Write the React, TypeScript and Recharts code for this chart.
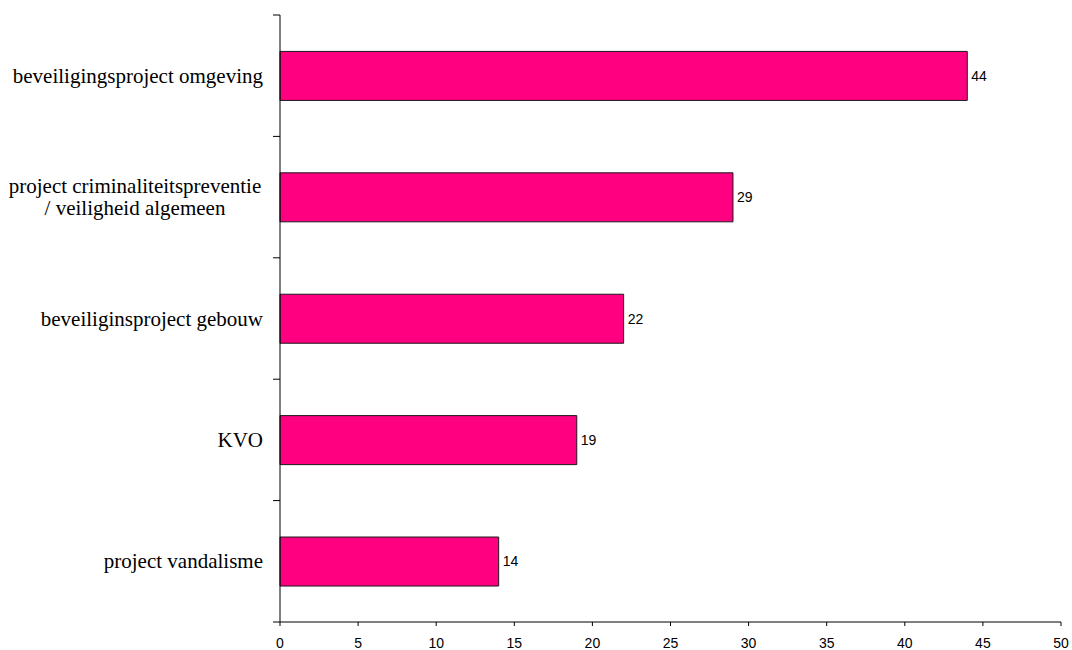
import { BarChart, Bar, XAxis, YAxis, LabelList } from 'recharts';

const CATEGORIES = [
  'beveiligingsproject omgeving',
  'project criminaliteitspreventie\n/ veiligheid algemeen',
  'beveiliginsproject gebouw',
  'KVO',
  'project vandalisme',
];
const VALUES = [44, 29, 22, 19, 14];
const X_TICKS = [0, 5, 10, 15, 20, 25, 30, 35, 40, 45, 50];

const data = CATEGORIES.map((name, i) => ({ name, value: VALUES[i] }));

const W = 1072;
const H = 650;
const TOP = 15;
const BOTTOM_AXIS = 28;
const BAND = (H - TOP - BOTTOM_AXIS) / CATEGORIES.length;
const SERIF = "'Liberation Serif', 'Times New Roman', serif";
const SANS = "'Liberation Sans', Arial, sans-serif";

function CategoryTick(props: any) {
  const { x, y, payload, index } = props;
  const lines = String(payload.value).split('\n');
  const lineH = 22;
  const startY = y - ((lines.length - 1) * lineH) / 2;
  const multi = lines.length > 1;
  const tx = multi ? x - 145 : x - 17;
  return (
    <g>
      <line x1={x - 7} x2={x} y1={y - BAND / 2} y2={y - BAND / 2} stroke="#000" />
      {index === CATEGORIES.length - 1 && (
        <line x1={x - 7} x2={x} y1={y + BAND / 2} y2={y + BAND / 2} stroke="#000" />
      )}
      {lines.map((l, i) => (
        <text
          key={i}
          x={tx}
          y={startY + i * lineH}
          textAnchor={multi ? 'middle' : 'end'}
          dominantBaseline="central"
          style={{ fontFamily: SERIF, fontSize: 21 }}
          fill="#000"
        >
          {l}
        </text>
      ))}
    </g>
  );
}

export default function App() {
  return (
    <div style={{ position: 'absolute', left: 0, top: 0, width: W, height: H, background: '#fff' }}>
      <BarChart
        width={W}
        height={H}
        data={data}
        layout="vertical"
        margin={{ top: TOP, right: 11, bottom: 0, left: 0 }}
        barCategoryGap="30%"
      >
        <XAxis
          type="number"
          domain={[0, 50]}
          ticks={X_TICKS}
          interval={0}
          height={BOTTOM_AXIS}
          tickSize={4}
          tickMargin={12}
          axisLine={{ stroke: '#000' }}
          tickLine={{ stroke: '#000' }}
          tick={{ fill: '#000', fontSize: 14, fontFamily: SANS }}
        />
        <YAxis
          type="category"
          dataKey="name"
          width={280}
          interval={0}
          tickSize={0}
          tickMargin={0}
          tickLine={false}
          axisLine={{ stroke: '#000' }}
          tick={<CategoryTick />}
        />
        <Bar dataKey="value" fill="#FF0080" stroke="#1a1a1a" strokeWidth={1} isAnimationActive={false}>
          <LabelList
            dataKey="value"
            position="right"
            offset={4}
            fill="#000"
            fontSize={14}
            fontFamily={SANS}
          />
        </Bar>
      </BarChart>
    </div>
  );
}
